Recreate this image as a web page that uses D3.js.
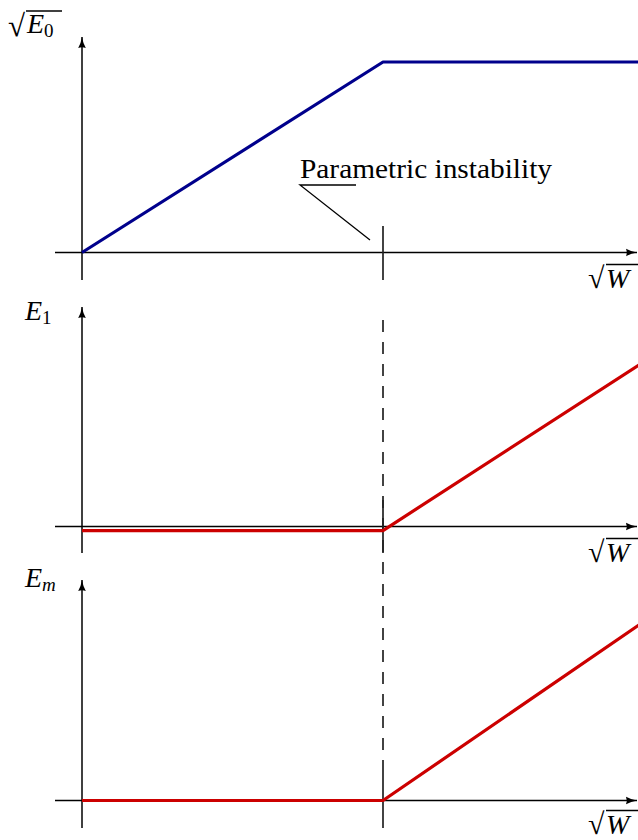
<!DOCTYPE html>
<html>
<head>
<meta charset="utf-8">
<script src="https://cdn.jsdelivr.net/npm/d3@7"></script>
<style>
  body { margin: 0; background: #fff; }
  svg { display: block; }
  text { font-family: "Liberation Serif", "DejaVu Serif", serif; fill: #000; }
</style>
</head>
<body>
<svg id="chart" width="638" height="840"></svg>
<script>
// x values (sqrt W), threshold at 1
const xDomain = [0, 1.85]
const threshold = 1

// sqrt(E0)
const e0Points = [[0, 0], [1, 1], [1.85, 1]]
// E1
const e1Points = [[0, -0.025], [1, -0.025], [1.85, 1]]
// Em
const emPoints = [[0, 0], [1, 0], [1.85, 1]]

const annotation = 'Parametric instability'

const W = 638, H = 840
const svg = d3.select('#chart')

const xscale = d3.scaleLinear().domain([0, 1]).range([82, 383])

// panel layout: zero line, one line, axis extents
const panels = [
  { pts: e0Points, color: '#00008c', zero: 252.5, one: 62, top: 37, bottom: 280, tick: [226, 280], wOff: 35 },
  { pts: e1Points, color: '#cc0000', zero: 526.5, one: 365, top: 307, bottom: 553, tick: [500, 553], wOff: 35 },
  { pts: emPoints, color: '#cc0000', zero: 800.5, one: 625, top: 580, bottom: 828, tick: [772, 828], wOff: 33 }
]

const defs = svg.append('defs')
defs.append('marker')
  .attr('id', 'arrow')
  .attr('viewBox', '0 -5 12 10')
  .attr('refX', 11).attr('refY', 0)
  .attr('markerUnits', 'userSpaceOnUse')
  .attr('markerWidth', 12).attr('markerHeight', 10)
  .attr('orient', 'auto')
  .append('path')
  .attr('d', 'M0,-3.8 Q5,-1 11,0 Q5,1 0,3.8 Q1.5,0 0,-3.8 Z')
  .attr('fill', '#000')

// dashed guide at threshold
svg.append('line')
  .attr('x1', xscale(threshold)).attr('x2', xscale(threshold))
  .attr('y1', 320).attr('y2', 773)
  .attr('stroke', '#222').attr('stroke-width', 1.7)
  .attr('stroke-dasharray', '12,10')

panels.forEach(p => {
  const yscale = d3.scaleLinear().domain([0, 1]).range([p.zero, p.one])
  const g = svg.append('g')

  // x axis
  g.append('line')
    .attr('x1', 55).attr('x2', W - 1)
    .attr('y1', yscale(0)).attr('y2', yscale(0))
    .attr('stroke', '#000').attr('stroke-width', 1.5)
    .attr('marker-end', 'url(#arrow)')

  // y axis
  g.append('line')
    .attr('x1', xscale(0)).attr('x2', xscale(0))
    .attr('y1', p.bottom).attr('y2', p.top)
    .attr('stroke', '#000').attr('stroke-width', 1.5)
    .attr('marker-end', 'url(#arrow)')

  // threshold tick
  g.append('line')
    .attr('x1', xscale(threshold)).attr('x2', xscale(threshold))
    .attr('y1', p.tick[0]).attr('y2', p.tick[1])
    .attr('stroke', '#222').attr('stroke-width', 1.7)

  const line = d3.line()
    .x(d => xscale(d[0]))
    .y(d => yscale(d[1]))

  g.append('path')
    .datum(p.pts)
    .attr('d', line)
    .attr('fill', 'none')
    .attr('stroke', p.color)
    .attr('stroke-width', 3.2)
    .attr('stroke-linejoin', 'round')

  // sqrt W label at right
  const wy = yscale(0) + p.wOff
  g.append('text').attr('x', 588).attr('y', wy).attr('font-size', 30).text('√')
  g.append('text').attr('x', 606).attr('y', wy).attr('font-size', 28)
    .attr('font-style', 'italic').text('W')
  g.append('line')
    .attr('x1', 606).attr('x2', 640)
    .attr('y1', wy - 23).attr('y2', wy - 23)
    .attr('stroke', '#000').attr('stroke-width', 1.3)
})

// y labels
svg.append('text').attr('x', 8).attr('y', 36).attr('font-size', 31).text('√')
const l0 = svg.append('text').attr('x', 27).attr('y', 33).attr('font-size', 28)
l0.append('tspan').attr('font-style', 'italic').text('E')
l0.append('tspan').attr('font-size', 19).attr('dy', 4).text('0')
svg.append('line')
  .attr('x1', 26).attr('x2', 62).attr('y1', 11).attr('y2', 11)
  .attr('stroke', '#000').attr('stroke-width', 1.3)

const l1 = svg.append('text').attr('x', 25).attr('y', 320).attr('font-size', 28)
l1.append('tspan').attr('font-style', 'italic').text('E')
l1.append('tspan').attr('font-size', 19).attr('dy', 4).text('1')

const l2 = svg.append('text').attr('x', 25).attr('y', 587).attr('font-size', 28)
l2.append('tspan').attr('font-style', 'italic').text('E')
l2.append('tspan').attr('font-size', 19).attr('font-style', 'italic').attr('dy', 4).text('m')

// annotation
svg.append('text')
  .attr('x', 300).attr('y', 178)
  .attr('font-size', 27)
  .attr('textLength', 252).attr('lengthAdjust', 'spacingAndGlyphs')
  .text(annotation)
svg.append('path')
  .attr('d', `M356,185 L300,185 L370,240`)
  .attr('fill', 'none').attr('stroke', '#000').attr('stroke-width', 1.3)
</script>
</body>
</html>
